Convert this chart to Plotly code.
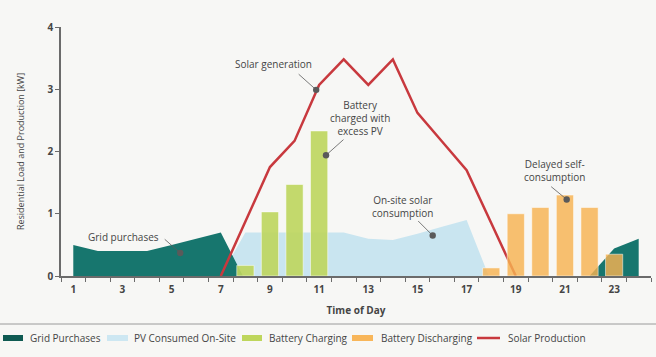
import plotly.graph_objects as go

# ---- data ----
grid_hours_am = [1, 2, 3, 4, 5, 6, 7, 7.9]
grid_vals_am = [0.5, 0.4, 0.4, 0.4, 0.5, 0.6, 0.7, 0]
grid_hours_pm = [22, 23, 24]
grid_vals_pm = [0, 0.44, 0.6]

pv_hours = [7, 8, 9, 10, 11, 12, 13, 14, 15, 16, 17, 17.9]
pv_vals = [0, 0.7, 0.7, 0.7, 0.7, 0.7, 0.6, 0.58, 0.68, 0.79, 0.9, 0]

charge_hours = [8, 9, 10, 11]
charge_vals = [0.17, 1.03, 1.47, 2.33]

discharge_hours = [18, 19, 20, 21, 22, 23]
discharge_vals = [0.13, 1.0, 1.1, 1.3, 1.1, 0.35]

solar_hours = [7, 8, 9, 10, 11, 12, 13, 14, 15, 16, 17, 18, 19]
solar_vals = [0, 0.87, 1.75, 2.17, 3.07, 3.48, 3.07, 3.48, 2.62, 2.16, 1.70, 0.85, 0]

x_tick_vals = [1, 3, 5, 7, 9, 11, 13, 15, 17, 19, 21, 23]
y_tick_vals = [0, 1, 2, 3, 4]

legend_names = ["Grid Purchases", "PV Consumed On-Site", "Battery Charging",
                "Battery Discharging", "Solar Production"]

# annotation texts, anchor (data), text position (data), arrow offsets (px)
notes = [
    ("Solar generation", 10.88, 2.99, 9.13, 3.40, -19, -17),
    ("Battery<br>charged with<br>excess PV", 11.28, 1.94, 12.67, 2.54, 19, -17),
    ("Grid purchases", 5.35, 0.37, 3.03, 0.63, -17, -15),
    ("On-site solar<br>consumption", 15.62, 0.65, 14.39, 1.12, -16, -16),
    ("Delayed self-<br>consumption", 21.07, 1.23, 20.59, 1.69, -17, -14),
]

FONT = "Open Sans"
TXT = "#454545"
BG = "#f7f7f5"
TEAL = "rgb(23,118,110)"
BLUE = "rgb(201,229,240)"
GREEN = "rgba(190,214,96,0.92)"
ORANGE = "rgba(247,178,82,0.82)"
RED = "rgb(200,57,62)"

fig = go.Figure()

fig.add_trace(go.Scatter(
    x=pv_hours, y=pv_vals, mode="none", fill="tozeroy", fillcolor=BLUE,
    name=legend_names[1]))
fig.add_trace(go.Scatter(
    x=grid_hours_am, y=grid_vals_am, mode="none", fill="tozeroy", fillcolor=TEAL,
    name=legend_names[0]))
fig.add_trace(go.Scatter(
    x=grid_hours_pm, y=grid_vals_pm, mode="none", fill="tozeroy", fillcolor=TEAL,
    name=legend_names[0]))
fig.add_trace(go.Scatter(
    x=solar_hours, y=solar_vals, mode="lines", line=dict(color=RED, width=2.5),
    name=legend_names[4]))
fig.add_trace(go.Bar(
    x=charge_hours, y=charge_vals, width=0.7, xaxis="x2", yaxis="y2",
    marker=dict(color=GREEN, line=dict(color="rgba(255,255,255,0.5)", width=1)),
    name=legend_names[2]))
fig.add_trace(go.Bar(
    x=discharge_hours, y=discharge_vals, width=0.7, xaxis="x2", yaxis="y2",
    marker=dict(color=ORANGE, line=dict(color="rgba(255,255,255,0.5)", width=1)),
    name=legend_names[3]))

L, R, T, B = 61, 5, 27, 81
W, H = 656, 357
pw = W - L - R
ph = H - T - B


def px_x(p):
    return (p - L) / pw


def px_y(p):
    return (H - B - p) / ph


annotations = []
for text, ax_, ay_, tx, ty, dx, dy in notes:
    annotations.append(dict(
        x=tx, y=ty, xref="x", yref="y", text=text, showarrow=False,
        font=dict(family=FONT, size=10, color=TXT), align="center"))
    annotations.append(dict(
        x=ax_, y=ay_, xref="x", yref="y", text="", showarrow=True,
        ax=dx, ay=dy, arrowhead=6, arrowsize=2.0, arrowwidth=0.8,
        arrowcolor="#5a5a5a", standoff=0))

# custom legend (swatch left px, swatch right px, text left px, kind, colour)
legend_layout = [
    (3, 23, 28, "rect", "#0f5a52"),
    (107, 128, 132, "rect", "#cde7f2"),
    (242, 262, 267, "rect", "#bed65c"),
    (352, 373, 379, "rect", "#f8b65a"),
    (477, 500, 506, "line", RED),
]
shapes = [dict(type="line", xref="paper", yref="paper",
               x0=px_x(0), x1=px_x(W), y0=px_y(324), y1=px_y(324),
               line=dict(color="#9a9a9a", width=1))]
LEG_Y = 338
for name, (s0, s1, t0, kind, col) in zip(legend_names, legend_layout):
    if kind == "rect":
        shapes.append(dict(type="rect", xref="paper", yref="paper",
                           x0=px_x(s0), x1=px_x(s1), y0=px_y(LEG_Y - 3), y1=px_y(LEG_Y + 3),
                           fillcolor=col, line=dict(width=0)))
    else:
        shapes.append(dict(type="line", xref="paper", yref="paper",
                           x0=px_x(s0), x1=px_x(s1), y0=px_y(LEG_Y), y1=px_y(LEG_Y),
                           line=dict(color=col, width=2.5)))
    annotations.append(dict(x=px_x(t0), y=px_y(LEG_Y), xref="paper", yref="paper",
                            xanchor="left", yanchor="middle", text=name, showarrow=False,
                            font=dict(family=FONT, size=10, color=TXT)))

fig.update_layout(
    width=W, height=H,
    margin=dict(l=L, r=R, t=T, b=B, autoexpand=False),
    paper_bgcolor=BG, plot_bgcolor=BG,
    font=dict(family=FONT, color=TXT, size=10),
    barmode="overlay",
    showlegend=False,
    xaxis=dict(range=[0.5, 24.5], tickvals=x_tick_vals, ticks="", showgrid=False,
               zeroline=False, showline=True, linecolor="#6b6b6b", linewidth=1.5,
               automargin=False, ticklabelstandoff=3,
               tickfont=dict(family=FONT, size=10, color=TXT, weight="bold"),
               minor=dict(ticks="outside", tick0=0.5, dtick=1, ticklen=4,
                          tickcolor="#6b6b6b", tickwidth=1.2, showgrid=False),
               title=dict(text="Time of Day", font=dict(family=FONT, size=10, color=TXT, weight="bold"),
                          standoff=12)),
    yaxis=dict(range=[0, 4], tickvals=y_tick_vals, ticks="outside", ticklen=4,
               tickcolor="#6b6b6b", tickwidth=1.2, showgrid=False, zeroline=False,
               showline=True, linecolor="#6b6b6b", linewidth=1.5, automargin=False,
               tickfont=dict(family=FONT, size=10, color=TXT, weight="bold"),
               title=dict(text="Residential Load and Production [kW]",
                          font=dict(family=FONT, size=9, color=TXT), standoff=21)),
    xaxis2=dict(range=[0.5, 24.5], overlaying="x", visible=False),
    yaxis2=dict(range=[0, 4], overlaying="y", visible=False),
    annotations=annotations,
    shapes=shapes,
)

fig.write_html(
    "out.html",
    config={"displayModeBar": False},
    post_script="document.body.style.margin='0';document.body.style.background='%s';"
                "document.body.style.overflow='hidden';" % BG,
)
